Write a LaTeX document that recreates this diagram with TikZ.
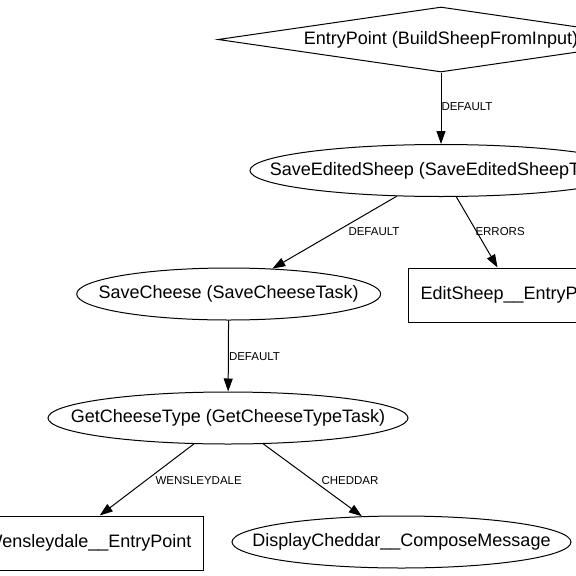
\documentclass[tikz,border=0pt]{standalone}
\usepackage{fontspec}
\setmainfont{Liberation Sans}
\usetikzlibrary{shapes.geometric,arrows.meta}

\newcommand\nodetext[1]{\makebox[0pt]{#1}}

\begin{document}
\begin{tikzpicture}
      [x=1pt,y=-1pt,line width=1pt,
       >={Triangle[length=13pt,width=9pt]},
       every node/.style={font=\fontsize{18}{20}\selectfont},
       task/.style={ellipse,draw,inner sep=0pt,minimum height=52},
       entry/.style={rectangle,draw,inner xsep=12,minimum height=54},
       lbl/.style={font=\fontsize{11.5}{12}\selectfont,inner sep=0pt,anchor=west}]
      \useasboundingbox (0,0) rectangle (576,576);
      \fill [white] (0,0) rectangle (576,576);
      \clip (0,0) rectangle (576,576);

      \node [diamond,draw,inner sep=0pt,minimum width=446,minimum height=65] (start) at (441,39.5) {\nodetext{EntryPoint (BuildSheepFromInput)}};
      \node [task,minimum width=382] (saved) at (441,170.5) {\nodetext{SaveEditedSheep (SaveEditedSheepTask)}};
      \node [task,minimum width=304] (cheese) at (228.7,294) {\nodetext{SaveCheese (SaveCheeseTask)}};
      \node [entry,anchor=west] (edit) at (408,295) {EditSheep\_\_EntryPoint};
      \node [task,minimum width=360] (type) at (228,418) {\nodetext{GetCheeseType (GetCheeseTypeTask)}};
      \node [entry,anchor=east] (wens) at (204,543) {Wensleydale\_\_EntryPoint};
      \node [task,minimum width=339] (cheddar) at (401.5,542) {\nodetext{DisplayCheddar\_\_ComposeMessage}};

      \foreach \from/\to in {start/saved, saved/cheese, saved/edit, cheese/type, type/wens.68, type/cheddar.147}
      \draw [->] (\from) -- (\to);

      \node [lbl] (d1) at (441,107) {DEFAULT};
      \node [lbl] (d2) at (348,231.5) {DEFAULT};
      \node [lbl] (err) at (475,232) {ERRORS};
      \node [lbl] (d3) at (228.5,357) {DEFAULT};
      \node [lbl] (wl) at (155,481) {WENSLEYDALE};
      \node [lbl] (cl) at (321,481) {CHEDDAR};
    \end{tikzpicture}
\end{document}
